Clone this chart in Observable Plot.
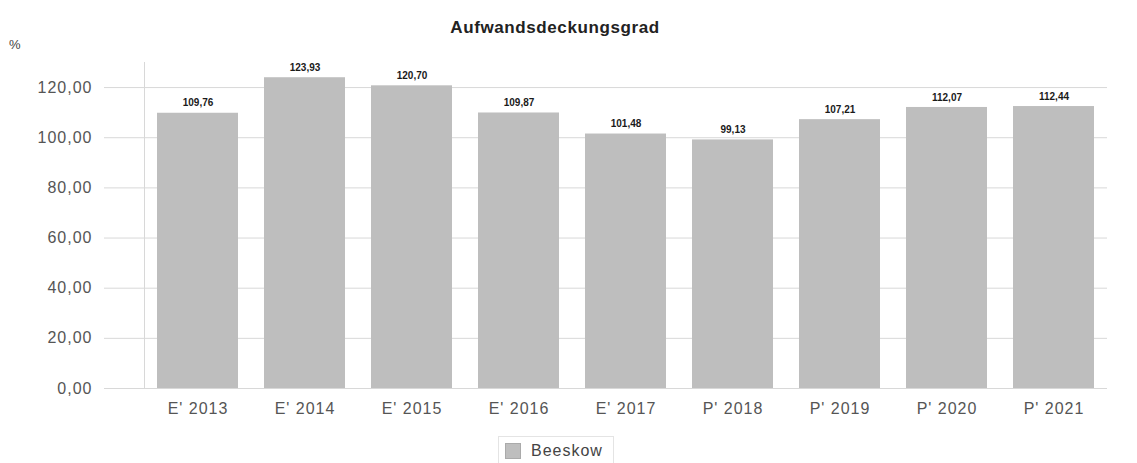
<!DOCTYPE html>
<html>
<head>
<meta charset="utf-8">
<script src="https://cdn.jsdelivr.net/npm/d3@7"></script>
<script src="https://cdn.jsdelivr.net/npm/@observablehq/plot@0.6"></script>
<style>
  body { margin: 0; background: #fff; font-family: "Liberation Sans", Arial, sans-serif; width: 1137px; height: 463px; overflow: hidden; position: relative; }
  #title { position: absolute; left: 0; width: 1110px; top: 18px; text-align: center; font-weight: bold; font-size: 17px; letter-spacing: 0.6px; color: #222; z-index: 2; }
  #unit { position: absolute; left: 9px; top: 37px; font-size: 13px; color: #444; z-index: 2; }
  #chart { position: absolute; left: 0; top: 45px; z-index: 1; }
  #chart svg text { letter-spacing: 1px; }
  #chart svg g[aria-label="text"] text { letter-spacing: 0; }
  #legend { position: absolute; left: 498px; top: 436px; width: 114px; height: 28px; border: 1px solid #e4e4e4; border-bottom: none; display: flex; align-items: center; font-size: 16px; letter-spacing: 1px; color: #444; z-index: 2; }
  #legend .sw { width: 14px; height: 14px; background: #bebebe; border: 1px solid #aaa; margin-left: 6px; margin-right: 10px; }
</style>
</head>
<body>
<div id="title">Aufwandsdeckungsgrad</div>
<div id="unit">%</div>
<div id="chart"></div>
<div id="legend"><div class="sw"></div><span>Beeskow</span></div>
<script>
const categories = ["E' 2013", "E' 2014", "E' 2015", "E' 2016", "E' 2017", "P' 2018", "P' 2019", "P' 2020", "P' 2021"];
const values = [109.76, 123.93, 120.70, 109.87, 101.48, 99.13, 107.21, 112.07, 112.44];
const yTicks = [0, 20, 40, 60, 80, 100, 120];
const seriesName = "Beeskow";

const data = categories.map((c, i) => ({cat: c, value: values[i], series: seriesName}));
const fmt = v => v.toFixed(2).replace(".", ",");

const chart = Plot.plot({
  width: 1137,
  height: 390,
  marginLeft: 144,
  marginRight: 30,
  marginTop: 17,
  marginBottom: 47,
  style: {fontFamily: "'Liberation Sans', Arial, sans-serif", background: "#fff"},
  x: {domain: categories, paddingInner: 0.24, paddingOuter: 0.12, label: null},
  y: {domain: [0, 130], label: null},
  marks: [
    Plot.gridY(yTicks, {stroke: "#d8d8d8", strokeOpacity: 1}),
    Plot.axisY(yTicks, {tickFormat: fmt, tickSize: 40, tickPadding: 12, stroke: "#d8d8d8", fontSize: 16, fill: "#555", label: null}),
    Plot.frame({anchor: "left", stroke: "#d8d8d8"}),
    Plot.barY(data, {x: "cat", y: "value", fill: "#bebebe"}),
    Plot.text(data, {x: "cat", y: "value", text: d => fmt(d.value), dy: -10, fontSize: 10, fontWeight: "bold", fill: "#1a1a1a"}),
    Plot.axisX({tickSize: 0, tickPadding: 14, fontSize: 16, fill: "#555", label: null})
  ]
});
document.getElementById("chart").appendChild(chart);
</script>
</body>
</html>
